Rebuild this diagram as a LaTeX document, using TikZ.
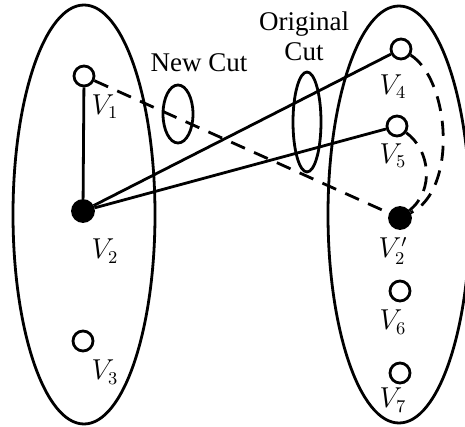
\documentclass[tikz,border=0pt]{standalone}
\usepackage{fontspec}
\setmainfont{Liberation Serif}
\begin{document}
\begin{tikzpicture}[x=0.5pt,y=-0.5pt,line width=1.4pt,
  open/.style={circle,draw,fill=white,minimum size=10pt,inner sep=0pt},
  full/.style={circle,draw,fill=black,minimum size=10.5pt,inner sep=0pt},
  lbl/.style={inner sep=0pt,font=\fontsize{13.5}{16}\selectfont},
  txt/.style={inner sep=0pt,font=\fontsize{13.5}{16}\selectfont,align=center},
  dsh/.style={dash pattern=on 7.5pt off 5pt}]
\useasboundingbox (0,0) rectangle (465,427);
% groups
\draw (84,214.5) ellipse [x radius=71, y radius=209.5];
\draw (399,214.5) ellipse [x radius=71, y radius=208.5];
% cuts
\draw (178,114) ellipse [x radius=15, y radius=29];
\draw (307,122) ellipse [x radius=14, y radius=50];
% vertices
\node[open] (v1) at (84,76) {};
\node[full] (v2) at (83,211) {};
\node[open] (v3) at (83,341) {};
\node[open] (v4) at (401,49) {};
\node[open] (v5) at (397,126) {};
\node[full] (v2p) at (400,218) {};
\node[open] (v6) at (400,291) {};
\node[open] (v7) at (400,373) {};
% edges
\draw (v1) -- (v2);
\draw (v2) -- (v4);
\draw (v2) -- (v5);
\draw[dsh] (v1) -- (v2p);
\draw[dsh] (v4) .. controls (450,80) and (458,190) .. (v2p);
\draw[dsh] (v5) .. controls (430,150) and (435,190) .. (v2p);
% labels
\node[lbl] (l1) at (105,107) {$V_1$};
\node[lbl] (l2) at (105,251) {$V_2$};
\node[lbl] (l3) at (105,372) {$V_3$};
\node[lbl] (l4) at (393,87) {$V_4$};
\node[lbl] (l5) at (393,156) {$V_5$};
\node[lbl] (l2p) at (393,251) {$V_2'$};
\node[lbl] (l6) at (393,322) {$V_6$};
\node[lbl] (l7) at (393,400) {$V_7$};
\node[txt] (nc) at (199,63) {New Cut};
\node[txt] (oc) at (304,36) {Original\\[-1pt]Cut};
\end{tikzpicture}
\end{document}
